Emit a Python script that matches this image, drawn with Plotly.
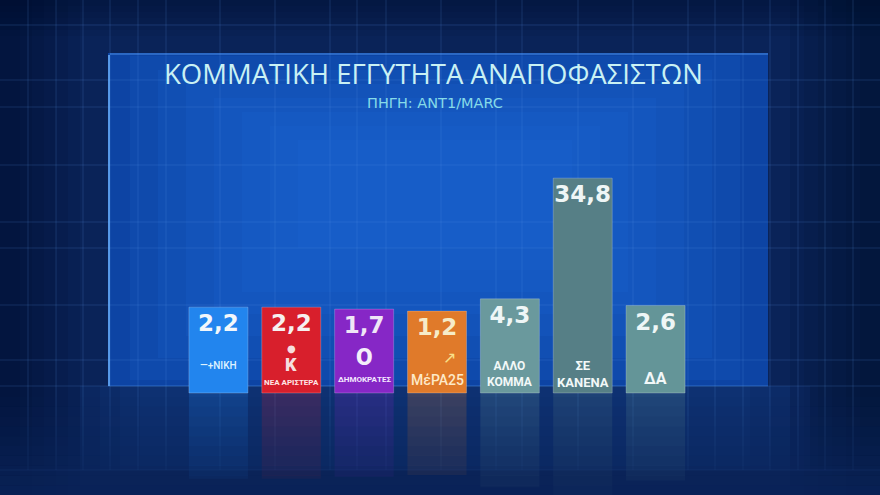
import plotly.graph_objects as go

# ---------------- data ----------------
categories = ["ΝΙΚΗ", "ΝΕΑ ΑΡΙΣΤΕΡΑ", "ΔΗΜΟΚΡΑΤΕΣ", "ΜέΡΑ25", "ΑΛΛΟ ΚΟΜΜΑ", "ΣΕ ΚΑΝΕΝΑ", "ΔΑ"]
values = [2.2, 2.2, 1.7, 1.2, 4.3, 34.8, 2.6]
bar_colors = ["#2285ee", "#d81f2c", "#8627c6", "#e07a2a", "#6a999d", "#567f86", "#649598"]
value_colors = ["#f2f7fb", "#f6f0f0", "#efe6f6", "#f6ecc8", "#eef6f6", "#eef6f6", "#eef6f6"]
title_text = "ΚΟΜΜΑΤΙΚΗ ΕΓΓΥΤΗΤΑ ΑΝΑΠΟΦΑΣΙΣΤΩΝ"
subtitle_text = "ΠΗΓΗ: ANT1/MARC"

# ---------------- layout geometry ----------------
W, H = 880, 495
ML, MR, MT, MB = 182, 188, 158, 0
PW, PH = W - ML - MR, H - MT - MB
BASE = -19.5          # bars start below zero (label box of the TV graphic)
SCALE = 3.957         # px per unit
FLOOR_PX = 393
y_top = BASE + (FLOOR_PX - MT) / SCALE
y_bot = BASE - (H - FLOOR_PX) / SCALE


def px_x(p):
    return (p - ML) / PW


def px_y(p):
    return (H - p) / PH


def rect(x0, y0, x1, y1, fill, layer="below"):
    return dict(type="rect", xref="paper", yref="paper", x0=px_x(x0), x1=px_x(x1), y0=px_y(y1), y1=px_y(y0),
                fillcolor=fill, line_width=0, layer=layer)


def line(x0, y0, x1, y1, color, width=1, layer="below"):
    return dict(type="line", xref="paper", yref="paper", x0=px_x(x0), x1=px_x(x1), y0=px_y(y0), y1=px_y(y1),
                line=dict(color=color, width=width), layer=layer)


fig = go.Figure()

# reflection
fig.add_trace(go.Bar(
    x=categories, y=[-(v - BASE) for v in values], base=BASE,
    marker=dict(color=bar_colors, line=dict(width=0)), opacity=0.22,
    hoverinfo="skip", showlegend=False,
))
# main bars
fig.add_trace(go.Bar(
    x=categories, y=[v - BASE for v in values], base=BASE,
    customdata=values,
    marker=dict(color=bar_colors, line=dict(color="rgba(255,255,255,0.22)", width=1)),
    texttemplate="%{customdata:.1f}", textposition="inside", insidetextanchor="end", textangle=0,
    textfont=dict(family="DejaVu Sans", size=23, color=value_colors, weight=700),
    constraintext="none", cliponaxis=False,
    hovertemplate="%{x}: %{customdata:.1f}<extra></extra>", showlegend=False,
))

shapes = []
# background + vignette
shapes.append(rect(0, 0, W, H, "#0a2358"))
for i in range(6):
    shapes.append(rect(0, 0, 20 + i * 12, H, "rgba(4,14,40,0.10)"))
    shapes.append(rect(W - 20 - i * 14, 0, W, H, "rgba(4,14,40,0.12)"))
    shapes.append(rect(0, 0, W, 6 + i * 6, "rgba(4,14,40,0.08)"))
# floor
for i in range(4):
    shapes.append(rect(80 + i * 20, 386, 810 - i * 20, 470, "rgba(25,80,170,0.10)"))
# panel
shapes.append(rect(108, 53, 768, 386, "#0d44a4"))
for i in range(7):
    shapes.append(rect(130 + i * 28, 56 + i * 14, 740 - i * 28, 380 - i * 22, "rgba(30,105,220,0.16)"))
# grid lines
grid_x = [28, 56, 83, 110, 138, 166, 220, 275, 330, 357, 386, 441, 496, 522, 578, 633, 688, 715, 743, 770, 798, 825, 853]
grid_y = [25, 80, 107, 165, 222, 248, 305, 360, 386]
for gx in grid_x:
    shapes.append(line(gx, 0, gx, 470, "rgba(90,150,235,0.20)"))
for gy in grid_y:
    shapes.append(line(0, gy, W, gy, "rgba(90,150,235,0.20)"))
# panel edges
shapes.append(line(109, 55, 109, 386, "rgba(110,180,255,0.75)", 2))
shapes.append(line(110, 54, 768, 54, "rgba(90,160,245,0.40)", 2))
shapes.append(line(108, 386, 768, 386, "rgba(90,160,245,0.30)", 1))
shapes.append(line(0, 470, W, 470, "rgba(90,150,235,0.22)", 1))
# fade of the reflection
n_bands = 10
for i in range(n_bands):
    y0 = FLOOR_PX + 4 + i * (H - FLOOR_PX - 4) / n_bands
    y1 = FLOOR_PX + 4 + (i + 1) * (H - FLOOR_PX - 4) / n_bands
    shapes.append(rect(0, y0, W, y1, f"rgba(10,35,88,{0.08 + 0.085 * i:.2f})", layer="above"))

annotations = [
    dict(text=title_text, xref="paper", yref="paper", x=px_x(433), y=px_y(73), showarrow=False,
         font=dict(family="Open Sans", size=27.5, color="#c9f1f4"), xanchor="center", yanchor="middle"),
    dict(text=subtitle_text, xref="paper", yref="paper", x=px_x(435), y=px_y(103), showarrow=False,
         font=dict(family="DejaVu Sans", size=14.5, color="#86dbe8"), xanchor="center", yanchor="middle"),
]

# party labels / logos inside the bars (anchored at the bar base)
labels = [
    ("ΝΙΚΗ", "—+ΝΙΚΗ", 28, 10, "#dff2ff", 500),
    ("ΝΕΑ ΑΡΙΣΤΕΡΑ", "ΝΕΑ ΑΡΙΣΤΕΡΑ", 11, 8, "#ffe6e6", 700),
    ("ΔΗΜΟΚΡΑΤΕΣ", "ΔΗΜΟΚΡΑΤΕΣ", 14, 8, "#f4e8ff", 700),
    ("ΜέΡΑ25", "ΜέΡΑ25", 13, 14, "#fde9c8", 500),
    ("ΑΛΛΟ ΚΟΜΜΑ", "ΑΛΛΟ<br>ΚΟΜΜΑ", 19, 12, "#f2f8f8", 700),
    ("ΣΕ ΚΑΝΕΝΑ", "ΣΕ<br>ΚΑΝΕΝΑ", 19, 13, "#f2f8f8", 700),
    ("ΔΑ", "ΔΑ", 15, 16, "#f2f8f8", 700),
]
for cat, txt, shift, size, col, wt in labels:
    annotations.append(dict(text=txt, x=cat, y=BASE, xref="x", yref="y", showarrow=False,
                            yanchor="middle", yshift=shift, font=dict(family="Roboto", size=size, color=col, weight=wt)))
# simple logo marks
annotations.append(dict(text="●", x="ΝΕΑ ΑΡΙΣΤΕΡΑ", y=BASE, xref="x", yref="y", showarrow=False,
                        yanchor="middle", yshift=45, font=dict(family="DejaVu Sans", size=10, color="#f6dede")))
annotations.append(dict(text="K", x="ΝΕΑ ΑΡΙΣΤΕΡΑ", y=BASE, xref="x", yref="y", showarrow=False,
                        yanchor="middle", yshift=29, font=dict(family="Roboto", size=18, color="#f6dede", weight=900)))
annotations.append(dict(text="O", x="ΔΗΜΟΚΡΑΤΕΣ", y=BASE, xref="x", yref="y", showarrow=False,
                        yanchor="middle", yshift=36, font=dict(family="Roboto", size=24, color="#f4eefa", weight=900)))
annotations.append(dict(text="↗", x="ΜέΡΑ25", y=BASE, xref="x", yref="y", showarrow=False,
                        yanchor="middle", xshift=12, yshift=36, font=dict(family="DejaVu Sans", size=16, color="#f8e08a")))

fig.update_layout(
    width=W, height=H,
    margin=dict(l=ML, r=MR, t=MT, b=MB, pad=0),
    paper_bgcolor="#0a2358", plot_bgcolor="rgba(0,0,0,0)",
    barmode="overlay", bargap=0.19,
    separators=",.",
    xaxis=dict(visible=False, categoryorder="array", categoryarray=categories),
    yaxis=dict(visible=False, range=[y_bot, y_top]),
    shapes=shapes, annotations=annotations,
    showlegend=False,
)

fig.write_html("out.html", config={"displayModeBar": False},
               post_script="document.body.style.margin='0';document.body.style.overflow='hidden';")
